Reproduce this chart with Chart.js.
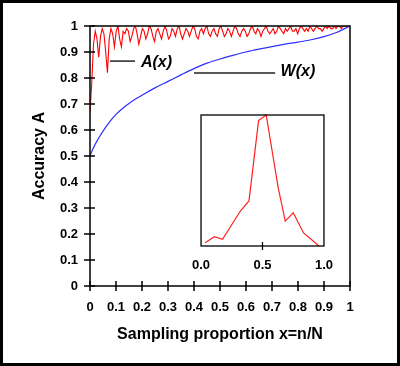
<!DOCTYPE html>
<html>
<head>
<meta charset="utf-8">
<script src="https://cdn.jsdelivr.net/npm/chart.js@4/dist/chart.umd.min.js"></script>
<style>
  body { margin: 0; background: #fff; }
  #wrap { position: relative; width: 400px; height: 366px; }
  #main { position: absolute; left: 0; top: 0; }
  #inset { position: absolute; left: 180px; top: 105px; }
</style>
</head>
<body>
<div id="wrap">
  <canvas id="main" width="400" height="366"></canvas>
  <canvas id="inset" width="165" height="175"></canvas>
</div>
<script>
// A(x): accuracy at evenly spaced sampling proportions 0..1
const aValues = [
  0.67, 0.78, 0.93, 0.98, 0.95, 0.88, 0.96, 0.99, 0.97, 0.90,
  0.82, 0.95, 0.99, 0.97, 0.92, 0.98, 1.00, 0.95, 0.92, 0.98,
  0.97, 0.99, 0.98, 0.94, 0.96, 0.99, 1.00, 0.97, 0.93, 0.96,
  0.99, 0.98, 0.95, 0.97, 1.00, 0.99, 0.96, 0.94, 0.98, 0.99,
  0.97, 0.95, 0.98, 1.00, 0.98, 0.95, 0.96, 0.99, 0.98, 0.96,
  0.99, 1.00, 0.97, 0.95, 0.97, 0.99, 0.98, 0.96, 0.98, 1.00,
  0.99, 0.96, 0.95, 0.98, 0.99, 0.97, 0.99, 1.00, 0.97, 0.96,
  0.98, 0.99, 0.97, 0.96, 0.99, 1.00, 0.98, 0.96, 0.97, 0.99,
  0.98, 0.96, 0.98, 1.00, 0.99, 0.97, 0.96, 0.98, 0.99, 0.98,
  0.96, 0.97, 0.99, 1.00, 0.98, 0.97, 0.99, 0.98, 0.96, 0.98,
  0.99, 1.00, 0.98, 0.97, 0.98, 0.99, 0.97, 0.98, 1.00, 0.99,
  0.98, 0.97, 0.99, 0.98, 0.99, 1.00, 0.98, 0.98, 0.99, 0.97,
  0.99, 1.00, 0.99, 0.98, 0.99, 0.98, 1.00, 0.99, 0.98, 0.99,
  1.00, 0.99, 0.99, 0.98, 0.99, 1.00, 0.99, 1.00, 0.99, 0.99,
  1.00, 0.99, 1.00, 1.00, 0.99, 1.00, 1.00, 1.00, 1.00, 1.00
];

// W(x)
const wX = [0, 0.01, 0.02, 0.03, 0.04, 0.06, 0.08, 0.10, 0.125, 0.15, 0.175, 0.2, 0.25, 0.3,
  0.35, 0.4, 0.45, 0.5, 0.55, 0.6, 0.65, 0.7, 0.75, 0.8, 0.85, 0.9, 0.95, 1.0];
const wY = [0.50, 0.525, 0.545, 0.563, 0.58, 0.61, 0.637, 0.66, 0.683, 0.702, 0.719, 0.734, 0.762, 0.787,
  0.812, 0.836, 0.857, 0.873, 0.887, 0.9, 0.911, 0.921, 0.93, 0.938, 0.947, 0.959, 0.976, 1.0];

// inset curve
const insetX = [0.034, 0.108, 0.175, 0.32, 0.39, 0.468, 0.53, 0.628, 0.685, 0.75, 0.834, 0.96];
const insetY = [0.025, 0.071, 0.051, 0.267, 0.344, 0.957, 1.0, 0.443, 0.19, 0.254, 0.10, 0.0];

const yTicks = [0, 0.1, 0.2, 0.3, 0.4, 0.5, 0.6, 0.7, 0.8, 0.9, 1];
const xTicks = [0, 0.1, 0.2, 0.3, 0.4, 0.5, 0.6, 0.7, 0.8, 0.9, 1];
const insetTicks = [0, 0.5, 1];

// leader lines and curve names, in data units
const curveLabels = [
  { text: 'A(x)', from: [0.077, 0.865], to: [0.173, 0.865], at: [0.196, 0.858] },
  { text: 'W(x)', from: [0.40, 0.819], to: [0.712, 0.819], at: [0.733, 0.824] }
];

Chart.defaults.font.family = '"Liberation Sans", Arial, sans-serif';
Chart.defaults.color = '#000';

const tickFont = { size: 13, weight: 'bold' };

const aData = aValues.map((v, i) => ({ x: i / (aValues.length - 1), y: v }));
const wData = wX.map((x, i) => ({ x, y: wY[i] }));
const insetData = insetX.map((x, i) => ({ x, y: insetY[i] }));

const line = (ctx, x1, y1, x2, y2) => {
  ctx.beginPath(); ctx.moveTo(x1, y1); ctx.lineTo(x2, y2); ctx.stroke();
};

const mainDecor = {
  id: 'mainDecor',
  beforeDraw(chart) {
    const { ctx } = chart;
    ctx.save();
    ctx.fillStyle = '#fff';
    ctx.fillRect(0, 0, chart.width, chart.height);
    ctx.restore();
  },
  afterDraw(chart) {
    const { ctx, chartArea: a, scales: { x, y } } = chart;
    ctx.save();
    ctx.strokeStyle = '#000';
    ctx.lineWidth = 1.5;
    ctx.strokeRect(a.left, a.top, a.right - a.left, a.bottom - a.top);
    yTicks.forEach(v => {
      const py = y.getPixelForValue(v);
      line(ctx, a.left - 6, py, a.left + 5, py);
    });
    xTicks.forEach(v => {
      const px = x.getPixelForValue(v);
      line(ctx, px, a.bottom - 5, px, a.bottom + 5);
    });

    ctx.strokeStyle = '#222';
    ctx.fillStyle = '#000';
    ctx.font = 'italic bold 16px "Liberation Sans", Arial, sans-serif';
    ctx.textBaseline = 'middle';
    curveLabels.forEach(l => {
      line(ctx, x.getPixelForValue(l.from[0]), y.getPixelForValue(l.from[1]),
        x.getPixelForValue(l.to[0]), y.getPixelForValue(l.to[1]));
      ctx.fillText(l.text, x.getPixelForValue(l.at[0]), y.getPixelForValue(l.at[1]));
    });

    // outer frame
    ctx.strokeStyle = '#000';
    ctx.lineWidth = 3;
    ctx.strokeRect(1.5, 1.5, chart.width - 3, chart.height - 3);
    ctx.restore();
  }
};

new Chart(document.getElementById('main'), {
  type: 'line',
  data: {
    datasets: [
      { data: aData, borderColor: '#ff0000', borderWidth: 1.1, pointRadius: 0, tension: 0 },
      { data: wData, borderColor: '#2f2fff', borderWidth: 1.2, pointRadius: 0, cubicInterpolationMode: 'monotone' }
    ]
  },
  options: {
    responsive: false,
    animation: false,
    events: [],
    layout: { padding: { left: 0, right: 50, top: 26, bottom: 0 } },
    plugins: { legend: { display: false }, tooltip: { enabled: false } },
    scales: {
      x: {
        type: 'linear', min: 0, max: 1,
        grid: { display: false, drawTicks: false },
        border: { display: false },
        afterBuildTicks: s => { s.ticks = xTicks.map(v => ({ value: v })); },
        ticks: { font: tickFont, padding: 14, maxRotation: 0, autoSkip: false, callback: v => String(v) },
        title: { display: true, text: 'Sampling proportion x=n/N', font: { size: 16, weight: 'bold' }, padding: { bottom: 22 } },
        afterFit: s => { s.height = 80; }
      },
      y: {
        min: 0, max: 1,
        grid: { display: false, drawTicks: false },
        border: { display: false },
        afterBuildTicks: s => { s.ticks = yTicks.map(v => ({ value: v })); },
        ticks: { font: tickFont, padding: 12, autoSkip: false, callback: v => String(v) },
        title: { display: true, text: 'Accuracy A', font: { size: 16, weight: 'bold' }, padding: { top: 30 } },
        afterFit: s => { s.width = 90; }
      }
    }
  },
  plugins: [mainDecor]
});

const insetDecor = {
  id: 'insetDecor',
  beforeDatasetsDraw(chart) {
    const { ctx, chartArea: a } = chart;
    ctx.save();
    ctx.fillStyle = '#fff';
    ctx.fillRect(a.left, a.top, a.right - a.left, a.bottom - a.top);
    ctx.restore();
  },
  afterDraw(chart) {
    const { ctx, chartArea: a, scales: { x } } = chart;
    ctx.save();
    ctx.strokeStyle = '#000';
    ctx.lineWidth = 1.3;
    ctx.strokeRect(a.left, a.top, a.right - a.left, a.bottom - a.top);
    const px = x.getPixelForValue(0.5);
    line(ctx, px, a.bottom - 4, px, a.bottom + 4);
    ctx.restore();
  }
};

new Chart(document.getElementById('inset'), {
  type: 'line',
  data: {
    datasets: [
      { data: insetData, borderColor: '#ff2020', borderWidth: 1.2, pointRadius: 0, tension: 0, clip: false }
    ]
  },
  options: {
    responsive: false,
    animation: false,
    events: [],
    layout: { padding: { left: 18, right: 17, top: 10, bottom: 0 } },
    plugins: { legend: { display: false }, tooltip: { enabled: false } },
    scales: {
      x: {
        type: 'linear', min: 0, max: 1,
        grid: { display: false, drawTicks: false },
        border: { display: false },
        afterBuildTicks: s => { s.ticks = insetTicks.map(v => ({ value: v })); },
        ticks: { font: tickFont, padding: 12, maxRotation: 0, autoSkip: false, callback: v => v.toFixed(1) },
        afterFit: s => { s.height = 34; }
      },
      y: { display: false, min: 0, max: 1 }
    }
  },
  plugins: [insetDecor]
});
</script>
</body>
</html>
